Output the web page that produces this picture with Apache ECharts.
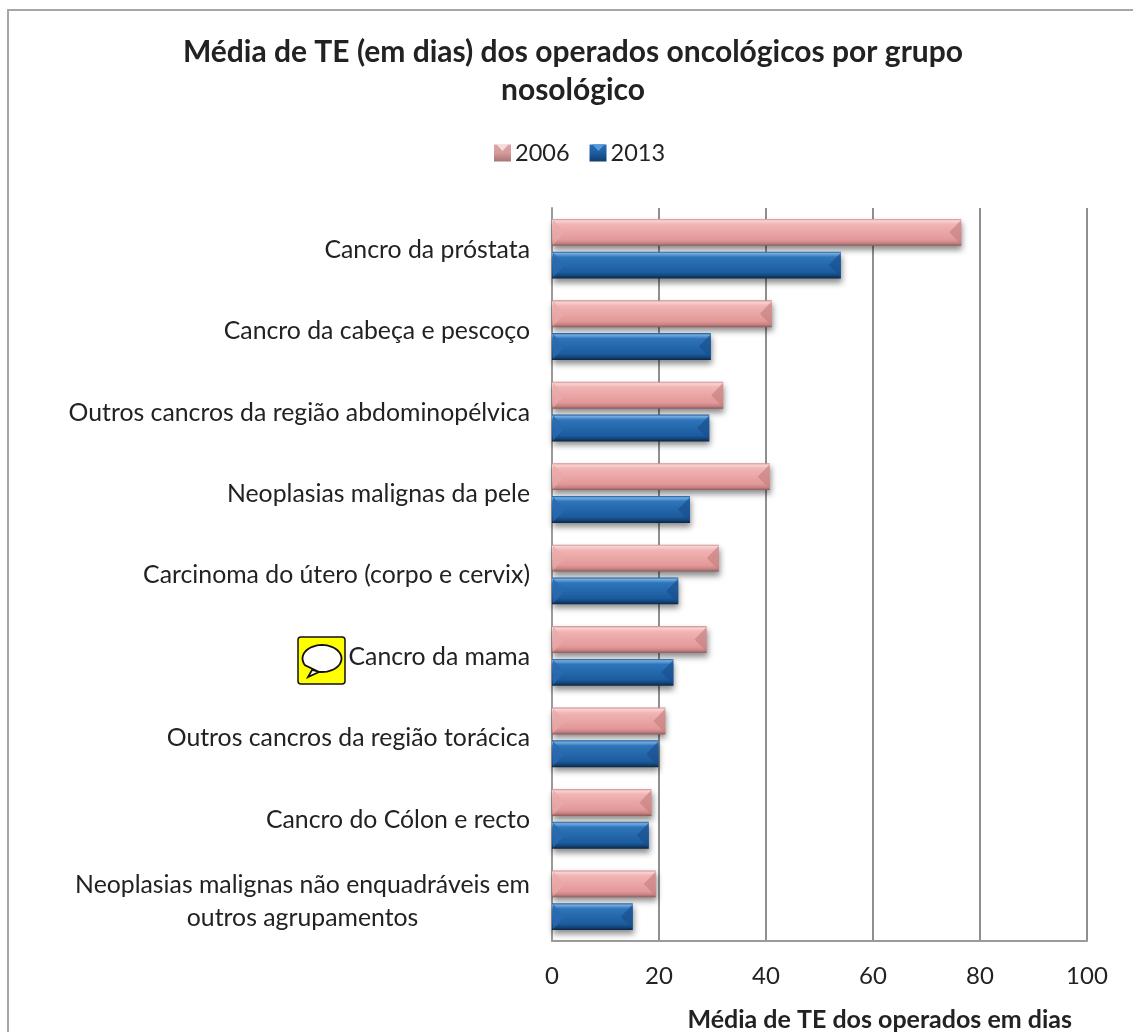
<!DOCTYPE html>
<html><head><meta charset="utf-8">
<style>html,body{margin:0;padding:0;background:#fff}#c{width:1133px;height:1032px}</style>
<script src="https://cdn.jsdelivr.net/npm/echarts@6/dist/echarts.min.js"></script>
</head><body><div id="c"></div>
<script>
const categories = ['Cancro da próstata','Cancro da cabeça e pescoço','Outros cancros da região abdominopélvica','Neoplasias malignas da pele','Carcinoma do útero (corpo e cervix)','Cancro da mama','Outros cancros da região torácica','Cancro do Cólon e recto','Neoplasias malignas não enquadráveis em\noutros agrupamentos'];
const values2006 = [76.5,41.1,32,40.7,31.2,28.9,21.2,18.6,19.4];
const values2013 = [54,29.7,29.4,25.8,23.6,22.7,19.9,18.1,15.1];
const FONT = 'Lato';
const grad = s => ({type:'linear',x:0,y:0,x2:0,y2:1,colorStops:s.map(c=>({offset:c[0],color:c[1]}))});
const pink = grad([[0,'#cf8b8b'],[0.07,'#f7d4d4'],[0.2,'#f2b4b4'],[0.78,'#e29898'],[0.9,'#c98282'],[1,'#8c5c5c']]);
const blue = grad([[0,'#1c5a9b'],[0.07,'#74acdf'],[0.2,'#2f75ba'],[0.78,'#1b5b9e'],[0.9,'#134476'],[1,'#0a2543']]);
const pinkLegend = grad([[0,'#dca3a3'],[0.5,'#d69a9a'],[1,'#a97474']]);
const blueLegend = grad([[0,'#2b6fb3'],[0.5,'#1d5c9f'],[1,'#123d6e']]);
function bevel(offsetSign, light, dark){
  return function(params, api){
    const v = api.value(0), c = api.value(1);
    const p = api.coord([v,c]), o = api.coord([0,c]);
    const band = api.size([0,1])[1];
    const h = band*0.33, gap = h*0.22;
    const cy = p[1] + offsetSign*(h+gap)/2;
    const top = cy-h/2, bot = cy+h/2, d = Math.min(12,(p[0]-o[0])/2);
    return {type:'group',silent:true,children:[
      {type:'polygon',shape:{points:[[o[0]+1,top+1],[o[0]+1+d,cy],[o[0]+1,bot-1]]},style:{fill:light}},
      {type:'polygon',shape:{points:[[p[0],top+1],[p[0]-d,cy],[p[0],bot-1]]},style:{fill:dark}}
    ]};
  };
}
const bubble = [];
for(let i=0;i<=48;i++){
  const a = i/48*Math.PI*2;
  if(a>1.75 && a<2.55){ if(bubble.tail) continue; bubble.tail=1; bubble.push([14,33],[10,40],[21,35]); continue; }
  bubble.push([24+19.5*Math.cos(a),21.5+13.5*Math.sin(a)]);
}
const lastIndex = categories.length-1;
const chart = echarts.init(document.getElementById('c'),null,{renderer:'canvas'});
chart.setOption({
  animation:false,
  backgroundColor:'#fff',
  textStyle:{fontFamily:FONT},
  title:{text:'Média de TE (em dias) dos operados oncológicos por grupo\nnosológico',left:568,top:28,textAlign:'center',
    textStyle:{fontFamily:FONT,fontSize:30,fontWeight:'bold',color:'#222',lineHeight:38}},
  legend:{left:489,top:136,itemWidth:17,itemHeight:17,itemGap:20,icon:'rect',
    data:[{name:'2006',itemStyle:{color:pinkLegend}},{name:'2013',itemStyle:{color:blueLegend}}],
    textStyle:{fontFamily:FONT,fontSize:23.5,color:'#222',padding:[0,0,0,-1]}},
  grid:{left:552,right:46,top:208,bottom:91,containLabel:false},
  xAxis:{type:'value',min:0,max:100,interval:20,
    axisLine:{show:true,lineStyle:{color:'#9a9a9a',width:2}},
    axisTick:{show:false},
    axisLabel:{fontFamily:FONT,fontSize:24,color:'#222',margin:23},
    splitLine:{show:true,lineStyle:{color:'#8f8f8f',width:2}},
    name:'Média de TE dos operados em dias',nameLocation:'end',nameGap:0,
    nameTextStyle:{fontFamily:FONT,fontSize:25,fontWeight:'bold',color:'#222',align:'right',verticalAlign:'top',padding:[66,15,0,0]}},
  yAxis:{type:'category',inverse:true,data:categories,
    axisLine:{show:true,lineStyle:{color:'#9a9a9a',width:2}},
    axisTick:{show:false},
    axisLabel:{fontFamily:FONT,fontSize:24.8,color:'#222',margin:22,lineHeight:34,align:'right',padding:[2,0,0,0],
      formatter:(v,i)=> i===lastIndex ? v.split('\n').map(s=>'{c|'+s+'}').join('\n') : v,
      rich:{c:{align:'center',fontFamily:FONT,fontSize:24.8,color:'#222',lineHeight:33}}}},
  series:[
    {name:'2006',type:'bar',data:values2006,barWidth:'33%',barGap:'22%',itemStyle:{color:pink,shadowColor:'rgba(0,0,0,.45)',shadowBlur:6,shadowOffsetY:4,shadowOffsetX:1}},
    {name:'2013',type:'bar',data:values2013,barWidth:'33%',barGap:'22%',itemStyle:{color:blue,shadowColor:'rgba(0,0,0,.45)',shadowBlur:6,shadowOffsetY:4,shadowOffsetX:1}},
    {type:'custom',silent:true,z:5,encode:{x:0,y:1},data:values2006.map((v,i)=>[v,i]),renderItem:bevel(-1,'rgba(232,170,170,.7)','rgba(196,128,128,.65)')},
    {type:'custom',silent:true,z:5,encode:{x:0,y:1},data:values2013.map((v,i)=>[v,i]),renderItem:bevel(1,'rgba(42,105,175,.8)','rgba(24,78,140,.65)')}
  ],
  graphic:[
    {type:'polyline',shape:{points:[[8,1032],[8,10],[1133,10]]},style:{fill:'none',stroke:'#a6a6a6',lineWidth:2},z:-1,silent:true},
    {type:'polygon',silent:true,z:10,shape:{points:[[496,144],[509,144],[502.5,151]]},style:{fill:'rgba(250,225,225,.9)'}},
    {type:'polygon',silent:true,z:10,shape:{points:[[592,144],[605,144],[598.5,151]]},style:{fill:'rgba(90,160,225,.9)'}},
    {type:'group',x:298,y:637,silent:true,children:[
      {type:'rect',shape:{x:0,y:0,width:47,height:47,r:3},style:{fill:'#ffff00',stroke:'#111',lineWidth:1.5}},
      {type:'polygon',shape:{points:bubble},style:{fill:'#fff',stroke:'#111',lineWidth:1.8}}
    ]}
  ]
});
</script></body></html>
